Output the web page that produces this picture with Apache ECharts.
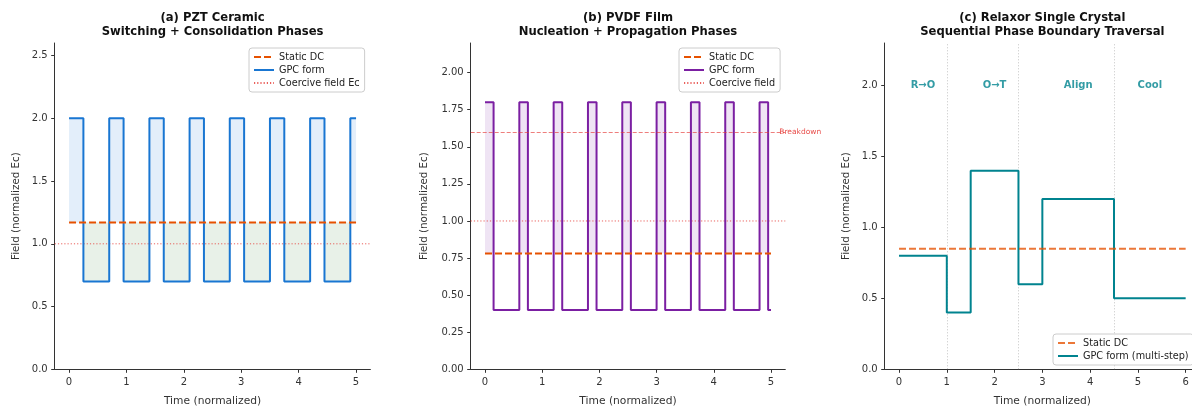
<!DOCTYPE html>
<html><head><meta charset="utf-8">
<script src="https://cdn.jsdelivr.net/npm/echarts@6/dist/echarts.min.js"></script>
<style>html,body{margin:0;padding:0;background:#fff}#c{width:1192px;height:406px}</style>
</head><body><div id="c"></div>
<script>
// ---------- data ----------
// (a) PZT ceramic: step waveform, segment i spans edges[i]..edges[i+1] at levels[i]
const pztEdges  = [0, 0.25, 0.7, 0.95, 1.4, 1.65, 2.1, 2.35, 2.8, 3.05, 3.5, 3.75, 4.2, 4.45, 4.9, 5.0];
const pztLevels = [2.0, 0.7, 2.0, 0.7, 2.0, 0.7, 2.0, 0.7, 2.0, 0.7, 2.0, 0.7, 2.0, 0.7, 2.0];
const pztDC = 1.17;
// (b) PVDF film
const pvdfEdges  = [0, 0.15, 0.6, 0.75, 1.2, 1.35, 1.8, 1.95, 2.4, 2.55, 3.0, 3.15, 3.6, 3.75, 4.2, 4.35, 4.8, 4.95, 5.0];
const pvdfLevels = [1.8, 0.4, 1.8, 0.4, 1.8, 0.4, 1.8, 0.4, 1.8, 0.4, 1.8, 0.4, 1.8, 0.4, 1.8, 0.4, 1.8, 0.4];
const pvdfDC = 0.78;
// (c) Relaxor single crystal
const relaxorEdges  = [0, 1, 1.5, 2.5, 3, 4.5, 6];
const relaxorLevels = [0.8, 0.4, 1.4, 0.6, 1.2, 0.5];
const relaxorDC = 0.85;
const phaseBoundaries = [1, 2.5, 4.5];
const phaseLabels = ['R→O', 'O→T', 'Align', 'Cool'];
const phaseLabelX = [0.5, 2.0, 3.75, 5.25];
const phaseLabelY = 2.0;
// reference levels
const coerciveField = 1.0;
const breakdownField = 1.6;
// axes
const xRangeA = [-0.25, 5.25], yRangeA = [0, 2.6];
const xRangeB = [-0.25, 5.25], yRangeB = [0, 2.2];
const xRangeC = [-0.3, 6.3],  yRangeC = [0, 2.3];
const xTicksA = [0, 1, 2, 3, 4, 5];
const yTicksA = [0, 0.5, 1.0, 1.5, 2.0, 2.5];
const xTicksB = [0, 1, 2, 3, 4, 5];
const yTicksB = [0, 0.25, 0.5, 0.75, 1.0, 1.25, 1.5, 1.75, 2.0];
const xTicksC = [0, 1, 2, 3, 4, 5, 6];
const yTicksC = [0, 0.5, 1.0, 1.5, 2.0];
const titles = [
  '(a) PZT Ceramic\nSwitching + Consolidation Phases',
  '(b) PVDF Film\nNucleation + Propagation Phases',
  '(c) Relaxor Single Crystal\nSequential Phase Boundary Traversal'
];

// ---------- helpers ----------
const FONT = '"DejaVu Sans", "Liberation Sans", sans-serif';
function stepPoints(edges, levels) {
  const pts = [];
  for (let i = 0; i < levels.length; i++) {
    pts.push([edges[i], levels[i]], [edges[i + 1], levels[i]]);
  }
  return pts;
}
function fillRects(edges, levels, dc, withBelow) {
  const rows = [];
  for (let i = 0; i < levels.length; i++) {
    if (levels[i] > dc) rows.push([edges[i], edges[i + 1], dc, levels[i], 0]);
    else if (withBelow && levels[i] < dc) rows.push([edges[i], edges[i + 1], levels[i], dc, 1]);
  }
  return rows;
}
const grids = [
  {left: 54.7, top: 43, width: 315.7, height: 326.3, outerBoundsMode: 'none', containLabel: false},
  {left: 470.7, top: 43, width: 314.6, height: 326.3, outerBoundsMode: 'none', containLabel: false},
  {left: 884.7, top: 43, width: 315.3, height: 326.3, outerBoundsMode: 'none', containLabel: false}
];
function xAxisOf(i, range, ticks, nameGap) {
  return {
    type: 'value', gridIndex: i, min: range[0], max: range[1],
    name: 'Time (normalized)', nameLocation: 'middle', nameGap: nameGap,
    nameTextStyle: {fontFamily: FONT, fontSize: 10.7, color: '#333'},
    axisLine: {show: true, onZero: false, lineStyle: {color: '#333', width: 1}},
    axisTick: {show: true, length: 3.5, customValues: ticks, lineStyle: {color: '#333'}},
    axisLabel: {customValues: ticks, fontFamily: FONT, fontSize: 10, color: '#333', margin: 8,
      formatter: v => String(v)},
    splitLine: {show: false}
  };
}
function yAxisOf(i, range, ticks, dec, nameGap) {
  return {
    type: 'value', gridIndex: i, min: range[0], max: range[1],
    name: 'Field (normalized Ec)', nameLocation: 'middle', nameGap: nameGap,
    nameTextStyle: {fontFamily: FONT, fontSize: 10.3, color: '#333'},
    axisLine: {show: true, onZero: false, lineStyle: {color: '#333', width: 1}},
    axisTick: {show: true, length: 3.5, customValues: ticks, lineStyle: {color: '#333'}},
    axisLabel: {customValues: ticks, fontFamily: FONT, fontSize: 10, color: '#333', margin: 7,
      formatter: v => Number(v).toFixed(dec)},
    splitLine: {show: false}
  };
}
function fillSeries(i, rows, colors) {
  return {
    type: 'custom', xAxisIndex: i, yAxisIndex: i, z: 1, silent: true, clip: true,
    data: rows, encode: {x: [0, 1], y: [2, 3]},
    renderItem: (params, api) => {
      const p0 = api.coord([api.value(0), api.value(3)]);
      const p1 = api.coord([api.value(1), api.value(2)]);
      return {type: 'rect', shape: {x: p0[0], y: p0[1], width: p1[0] - p0[0], height: p1[1] - p0[1]},
        style: {fill: colors[api.value(4)]}};
    }
  };
}
function lineSeries(i, name, data, color, width, type, z) {
  return {
    type: 'line', name: name, xAxisIndex: i, yAxisIndex: i, data: data,
    symbol: 'none', showSymbol: false, z: z, silent: true,
    lineStyle: {color: color, width: width, type: type},
    itemStyle: {color: color}
  };
}
function legendOf(names, left, top) {
  return {
    data: names, orient: 'vertical', left: left, top: top,
    itemWidth: 20, itemHeight: 10, itemGap: 3,
    padding: [4, 5, 4, 4],
    itemStyle: {opacity: 0},
    backgroundColor: 'rgba(255,255,255,0.85)', borderColor: '#cccccc', borderWidth: 1, borderRadius: 3,
    textStyle: {fontFamily: FONT, fontSize: 9.7, color: '#222'},
    formatter: n => n.split('|')[0],
    selectedMode: false
  };
}

const BLUE = '#1976D2', PURPLE = '#7B1FA2', TEAL = '#00838F';
const ORANGE = '#E65100', ORANGE_C = 'rgba(230,81,0,0.78)';
const RED_DOT = 'rgba(229,57,53,0.8)';
const DASH = [7, 3];
const DOT = [1.2, 2];

const series = [
  // (a)
  fillSeries(0, fillRects(pztEdges, pztLevels, pztDC, true), ['rgba(25,118,210,0.12)', 'rgba(46,125,50,0.11)']),
  lineSeries(0, 'Coercive field Ec|a', [[xRangeA[0], coerciveField], [xRangeA[1], coerciveField]], RED_DOT, 1, DOT, 2),
  lineSeries(0, 'GPC form|a', stepPoints(pztEdges, pztLevels), BLUE, 2, 'solid', 3),
  lineSeries(0, 'Static DC|a', [[pztEdges[0], pztDC], [pztEdges[pztEdges.length - 1], pztDC]], ORANGE, 2, DASH, 4),
  // (b)
  fillSeries(1, fillRects(pvdfEdges, pvdfLevels, pvdfDC, false), ['rgba(123,31,162,0.12)']),
  Object.assign(
    lineSeries(1, 'Coercive field|b', [[xRangeB[0], coerciveField], [xRangeB[1], coerciveField]], RED_DOT, 1, DOT, 2),
    {markLine: {
      silent: true, symbol: 'none',
      lineStyle: {color: 'rgba(229,57,53,0.65)', width: 1, type: [4, 2]},
      label: {show: true, position: 'end', distance: -6, formatter: 'Breakdown',
        fontFamily: FONT, fontSize: 7.5, color: 'rgba(229,57,53,0.9)'},
      data: [{yAxis: breakdownField}]
    }}),
  lineSeries(1, 'GPC form|b', stepPoints(pvdfEdges, pvdfLevels), PURPLE, 2, 'solid', 3),
  lineSeries(1, 'Static DC|b', [[pvdfEdges[0], pvdfDC], [pvdfEdges[pvdfEdges.length - 1], pvdfDC]], ORANGE, 2, DASH, 4),
  // (c)
  Object.assign(
    lineSeries(2, 'GPC form (multi-step)|c', stepPoints(relaxorEdges, relaxorLevels), TEAL, 2, 'solid', 3),
    {markLine: {
      silent: true, symbol: 'none', z: 1,
      lineStyle: {color: 'rgba(120,120,120,0.55)', width: 0.8, type: [1, 2]},
      label: {show: false},
      data: phaseBoundaries.map(x => ({xAxis: x}))
    }}),
  lineSeries(2, 'Static DC|c', [[relaxorEdges[0], relaxorDC], [relaxorEdges[relaxorEdges.length - 1], relaxorDC]], ORANGE_C, 2, DASH, 4),
  {
    type: 'scatter', xAxisIndex: 2, yAxisIndex: 2, silent: true, z: 5,
    symbolSize: 1, itemStyle: {color: 'rgba(0,0,0,0)'},
    data: phaseLabelX.map((x, k) => [x, phaseLabelY, phaseLabels[k]]),
    label: {show: true, position: 'inside', formatter: p => p.data[2],
      fontFamily: FONT, fontSize: 10, fontWeight: 'bold', color: TEAL}
  }
];

const graphic = titles.map((t, i) => ({
  type: 'text', x: grids[i].left + grids[i].width / 2, y: 11, silent: true,
  style: {text: t, align: 'center', verticalAlign: 'top', fill: '#111',
    font: 'bold 11.6px ' + FONT, lineHeight: 14}
}));

const chart = echarts.init(document.getElementById('c'), null, {renderer: 'canvas'});
chart.setOption({
  animation: false,
  backgroundColor: '#ffffff',
  grid: grids,
  xAxis: [xAxisOf(0, xRangeA, xTicksA, 26), xAxisOf(1, xRangeB, xTicksB, 26), xAxisOf(2, xRangeC, xTicksC, 26)],
  yAxis: [yAxisOf(0, yRangeA, yTicksA, 1, 33), yAxisOf(1, yRangeB, yTicksB, 2, 41), yAxisOf(2, yRangeC, yTicksC, 1, 33)],
  legend: [
    legendOf(['Static DC|a', 'GPC form|a', 'Coercive field Ec|a'], 249, 48),
    legendOf(['Static DC|b', 'GPC form|b', 'Coercive field|b'], 679, 48),
    legendOf(['Static DC|c', 'GPC form (multi-step)|c'], 1053, 334)
  ],
  graphic: graphic,
  series: series
});
</script></body></html>
